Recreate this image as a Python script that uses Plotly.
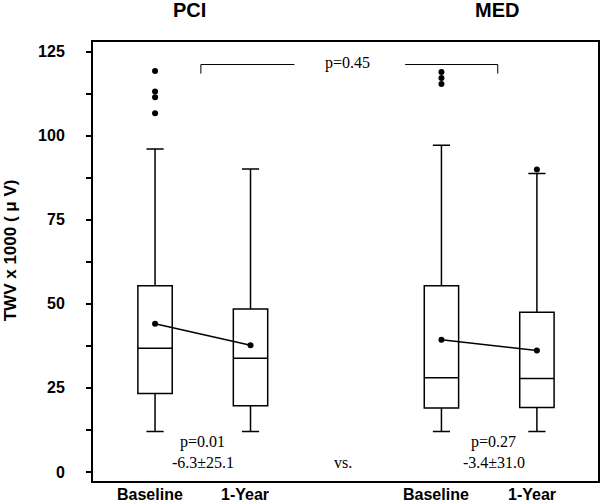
import plotly.graph_objects as go

# ---- data ----
groups = ["PCI", "PCI", "MED", "MED"]
labels = ["Baseline", "1-Year", "Baseline", "1-Year"]
lower_fence = [12.0, 12.0, 12.0, 12.0]
q1 = [23.3, 19.7, 19.0, 19.2]
median = [36.8, 33.8, 28.0, 27.8]
q3 = [55.4, 48.5, 55.4, 47.5]
upper_fence = [96.1, 90.1, 97.2, 88.8]
means = [44.1, 37.7, 39.3, 36.1]
outliers = [[106.7, 111.5, 113.2, 119.3], [], [115.4, 117.2, 119.0], [90.0]]
y_ticks = [0, 25, 50, 75, 100, 125]
p_within = ["p=0.01", "p=0.27"]
diff_text = ["-6.3±25.1", "-3.4±31.0"]
p_between = "p=0.45"
y_title = "TWV x 1000 ( μ V)"

# ---- layout positions ----
pos = [1, 2, 4, 5]
sans = "Liberation Sans, Arial, sans-serif"
serif = "Liberation Serif, Times New Roman, serif"

fig = go.Figure()

for i in range(4):
    fig.add_trace(go.Box(
        x=[pos[i]], q1=[q1[i]], median=[median[i]], q3=[q3[i]],
        lowerfence=[lower_fence[i]], upperfence=[upper_fence[i]],
        name=f"{groups[i]} {labels[i]}",
        width=0.36, whiskerwidth=0.5,
        fillcolor="white", line=dict(color="black", width=1.5),
        boxpoints=False, showlegend=False, hoverinfo="skip",
    ))
    if outliers[i]:
        fig.add_trace(go.Scatter(
            x=[pos[i]] * len(outliers[i]), y=outliers[i], mode="markers",
            marker=dict(color="black", size=6), showlegend=False, hoverinfo="skip",
        ))

for g in range(2):
    fig.add_trace(go.Scatter(
        x=pos[2 * g:2 * g + 2], y=means[2 * g:2 * g + 2], mode="lines+markers",
        line=dict(color="black", width=1.5), marker=dict(color="black", size=6),
        showlegend=False, hoverinfo="skip",
    ))

# x category labels (placed just under the axis)
for p, lab in zip(pos, labels):
    fig.add_annotation(x=p - 0.055, y=-0.031, xref="x", yref="paper", text=lab,
                       showarrow=False, xanchor="center", yanchor="middle",
                       font=dict(family=sans, size=16, color="black", weight="bold"))

# group titles
for x, t in [(1.36, "PCI"), (4.58, "MED")]:
    fig.add_annotation(x=x, y=1.073, xref="x", yref="paper", text=t, showarrow=False,
                       xanchor="center", yanchor="middle",
                       font=dict(family=sans, size=20, color="black", weight="bold"))

# y-axis title
fig.add_annotation(x=-0.164, y=0.526, xref="paper", yref="paper", text=y_title,
                   textangle=-90, showarrow=False, xanchor="center", yanchor="middle",
                   font=dict(family=sans, size=17, color="black", weight="bold"))

# within-group stats
for x, pt, dt in [(1.5, p_within[0], diff_text[0]), (4.55, p_within[1], diff_text[1])]:
    fig.add_annotation(x=x, y=9.0, text=pt, showarrow=False,
                       font=dict(family=serif, size=16, color="black"))
    fig.add_annotation(x=x, y=2.7, text=dt, showarrow=False,
                       font=dict(family=serif, size=16, color="black"))
fig.add_annotation(x=2.97, y=2.7, text="vs.", showarrow=False,
                   font=dict(family=serif, size=16, color="black"))

# between-group bracket
fig.add_annotation(x=3.02, y=121.6, text=p_between, showarrow=False,
                   font=dict(family=serif, size=16, color="black"))
bl = dict(color="black", width=1)
fig.add_shape(type="line", x0=1.48, x1=2.46, y0=121.2, y1=121.2, line=bl)
fig.add_shape(type="line", x0=3.62, x1=4.59, y0=121.2, y1=121.2, line=bl)
fig.add_shape(type="line", x0=1.48, x1=1.48, y0=121.2, y1=118.5, line=bl)
fig.add_shape(type="line", x0=4.59, x1=4.59, y0=121.2, y1=118.5, line=bl)

fig.update_layout(
    width=600, height=502,
    margin=dict(l=93, r=2, t=42, b=21, autoexpand=False),
    paper_bgcolor="white", plot_bgcolor="white",
    showlegend=False,
    xaxis=dict(
        range=[0.35, 5.64], tickvals=pos, showticklabels=False, ticks="",
        showgrid=False, zeroline=False, showline=True, mirror=True, automargin=False,
        linecolor="black", linewidth=2,
    ),
    yaxis=dict(
        range=[-2.7, 127.9], tickvals=y_ticks, ticks="outside", ticklen=5,
        tickwidth=1.5, tickcolor="black", ticklabelstandoff=18, automargin=False,
        minor=dict(dtick=12.5, tick0=12.5, ticks="outside", ticklen=5,
                   tickwidth=1.5, tickcolor="black", showgrid=False),
        showgrid=False, zeroline=False, showline=True, mirror=True,
        linecolor="black", linewidth=2,
        tickfont=dict(family=sans, size=16, color="black", weight="bold"),
    ),
)

fig.write_html("out.html", config={"displayModeBar": False},
               post_script="document.body.style.margin='0';")
